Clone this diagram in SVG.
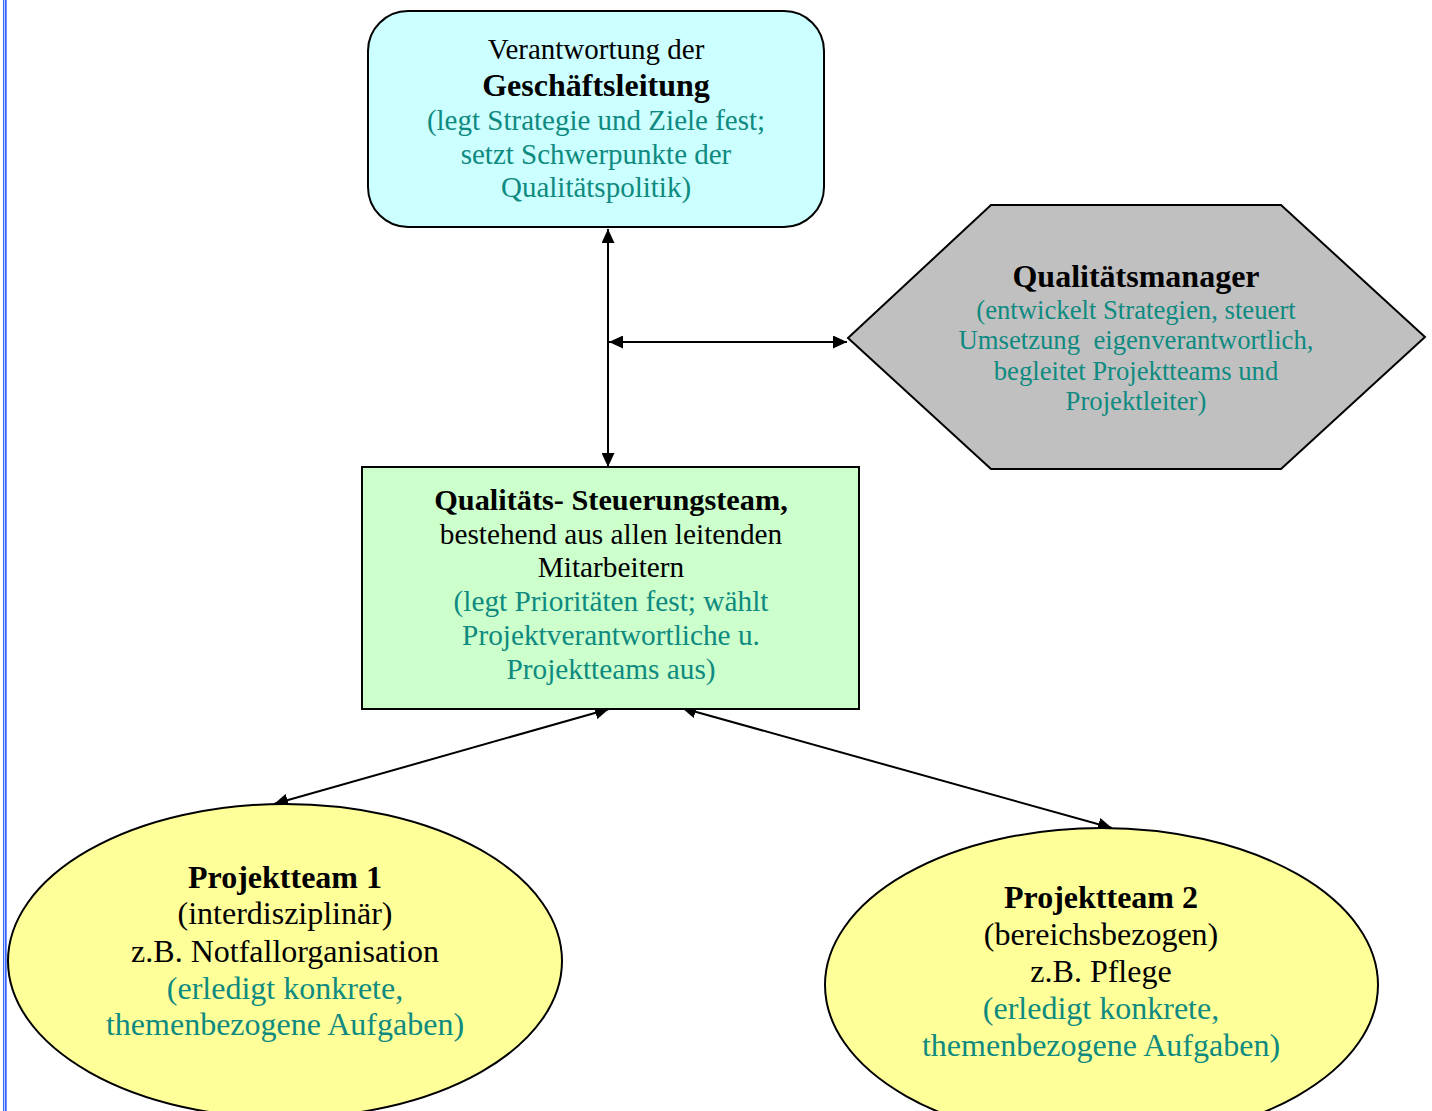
<svg xmlns="http://www.w3.org/2000/svg" width="1432" height="1111" viewBox="0 0 1432 1111">
<style>
text{font-family:"Liberation Serif","Times New Roman",serif;text-anchor:middle;fill:#000}
.t{fill:#0E8A80}
.b{font-weight:bold}
.shape{stroke:#000;stroke-width:2}
.conn{stroke:#000;stroke-width:2;fill:none;marker-start:url(#ah);marker-end:url(#ah)}
</style>
<defs>
<marker id="ah" viewBox="0 0 14 13" refX="14" refY="6.5" markerWidth="14" markerHeight="13" markerUnits="userSpaceOnUse" orient="auto-start-reverse">
<path d="M0,0 L14,6.5 L0,13 z" fill="#000"/>
</marker>
</defs>
<rect x="0" y="0" width="1432" height="1111" fill="#fff"/>
<line x1="3.5" y1="0" x2="3.5" y2="1111" stroke="#3366FF" stroke-width="1"/>
<line x1="5.7" y1="0" x2="5.7" y2="1111" stroke="#3366FF" stroke-width="2"/>

<g id="connectors">
<line class="conn" x1="608" y1="229" x2="608" y2="467"/>
<line class="conn" x1="609" y1="342" x2="847" y2="342"/>
<line class="conn" x1="609" y1="709" x2="274" y2="804"/>
<line class="conn" x1="682" y1="708" x2="1112" y2="828"/>
</g>

<g id="geschaeftsleitung">
<rect class="shape" x="368" y="11" width="456" height="216" rx="40" ry="40" fill="#CCFFFF"/>
<text x="596" y="59" font-size="29">Verantwortung der</text>
<text x="596" y="96" font-size="32" class="b">Geschäftsleitung</text>
<text x="596" y="130" font-size="29" class="t">(legt Strategie und Ziele fest;</text>
<text x="596" y="164" font-size="29" class="t">setzt Schwerpunkte der</text>
<text x="596" y="197" font-size="29" class="t">Qualitätspolitik)</text>
</g>

<g id="qualitaetsmanager">
<polygon class="shape" points="848,338 991,205 1281,205 1425,337 1281,469 991,469" fill="#C0C0C0"/>
<text x="1136" y="287" font-size="32" class="b">Qualitätsmanager</text>
<text x="1136" y="319" font-size="26.7" class="t">(entwickelt Strategien, steuert</text>
<text x="1136" y="349" font-size="26.7" class="t" xml:space="preserve">Umsetzung  eigenverantwortlich,</text>
<text x="1136" y="380" font-size="26.7" class="t">begleitet Projektteams und</text>
<text x="1136" y="410" font-size="26.7" class="t">Projektleiter)</text>
</g>

<g id="steuerungsteam">
<rect class="shape" x="362" y="467" width="497" height="242" fill="#CCFFCC"/>
<text x="611" y="510" font-size="30.3" class="b">Qualitäts- Steuerungsteam,</text>
<text x="611" y="544" font-size="29.3">bestehend aus allen leitenden</text>
<text x="611" y="577" font-size="29.3">Mitarbeitern</text>
<text x="611" y="611" font-size="29.3" class="t">(legt Prioritäten fest; wählt</text>
<text x="611" y="645" font-size="29.3" class="t">Projektverantwortliche u.</text>
<text x="611" y="679" font-size="29.3" class="t">Projektteams aus)</text>
</g>

<g id="projektteam1">
<ellipse class="shape" cx="285" cy="961" rx="277" ry="157" fill="#FFFF99"/>
<text x="285" y="888" font-size="32" class="b">Projektteam 1</text>
<text x="285" y="924" font-size="32">(interdisziplinär)</text>
<text x="285" y="962" font-size="32">z.B. Notfallorganisation</text>
<text x="285" y="999" font-size="32" class="t">(erledigt konkrete,</text>
<text x="285" y="1035" font-size="32" class="t">themenbezogene Aufgaben)</text>
</g>

<g id="projektteam2">
<ellipse class="shape" cx="1101.5" cy="985" rx="276.5" ry="157" fill="#FFFF99"/>
<text x="1101" y="908" font-size="32" class="b">Projektteam 2</text>
<text x="1101" y="945" font-size="32">(bereichsbezogen)</text>
<text x="1101" y="982" font-size="32">z.B. Pflege</text>
<text x="1101" y="1019" font-size="32" class="t">(erledigt konkrete,</text>
<text x="1101" y="1056" font-size="32" class="t">themenbezogene Aufgaben)</text>
</g>
</svg>
